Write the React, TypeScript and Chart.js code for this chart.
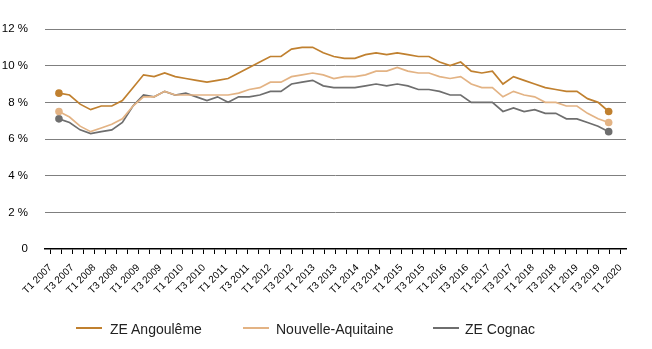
import React, { useEffect, useRef } from "react";
import { Chart, registerables } from "chart.js";

Chart.register(...registerables);

const quarters = [
  "T1 2007", "T2 2007", "T3 2007", "T4 2007",
  "T1 2008", "T2 2008", "T3 2008", "T4 2008",
  "T1 2009", "T2 2009", "T3 2009", "T4 2009",
  "T1 2010", "T2 2010", "T3 2010", "T4 2010",
  "T1 2011", "T2 2011", "T3 2011", "T4 2011",
  "T1 2012", "T2 2012", "T3 2012", "T4 2012",
  "T1 2013", "T2 2013", "T3 2013", "T4 2013",
  "T1 2014", "T2 2014", "T3 2014", "T4 2014",
  "T1 2015", "T2 2015", "T3 2015", "T4 2015",
  "T1 2016", "T2 2016", "T3 2016", "T4 2016",
  "T1 2017", "T2 2017", "T3 2017", "T4 2017",
  "T1 2018", "T2 2018", "T3 2018", "T4 2018",
  "T1 2019", "T2 2019", "T3 2019", "T4 2019",
  "T1 2020",
];

const angouleme = [
  8.5, 8.4, 7.9, 7.6, 7.8, 7.8, 8.1, 8.8, 9.5, 9.4, 9.6, 9.4, 9.3, 9.2, 9.1, 9.2,
  9.3, 9.6, 9.9, 10.2, 10.5, 10.5, 10.9, 11.0, 11.0, 10.7, 10.5, 10.4, 10.4, 10.6,
  10.7, 10.6, 10.7, 10.6, 10.5, 10.5, 10.2, 10.0, 10.2, 9.7, 9.6, 9.7, 9.0, 9.4,
  9.2, 9.0, 8.8, 8.7, 8.6, 8.6, 8.2, 8.0, 7.5,
];

const nouvelleAquitaine = [
  7.5, 7.2, 6.7, 6.4, 6.6, 6.8, 7.1, 7.8, 8.3, 8.3, 8.6, 8.4, 8.4, 8.4, 8.4, 8.4,
  8.4, 8.5, 8.7, 8.8, 9.1, 9.1, 9.4, 9.5, 9.6, 9.5, 9.3, 9.4, 9.4, 9.5,
  9.7, 9.7, 9.9, 9.7, 9.6, 9.6, 9.4, 9.3, 9.4, 9.0, 8.8, 8.8, 8.3, 8.6,
  8.4, 8.3, 8.0, 8.0, 7.8, 7.8, 7.4, 7.1, 6.9,
];

const cognac = [
  7.1, 6.9, 6.5, 6.3, 6.4, 6.5, 6.9, 7.8, 8.4, 8.3, 8.6, 8.4, 8.5, 8.3, 8.1, 8.3,
  8.0, 8.3, 8.3, 8.4, 8.6, 8.6, 9.0, 9.1, 9.2, 8.9, 8.8, 8.8, 8.8, 8.9,
  9.0, 8.9, 9.0, 8.9, 8.7, 8.7, 8.6, 8.4, 8.4, 8.0, 8.0, 8.0, 7.5, 7.7,
  7.5, 7.6, 7.4, 7.4, 7.1, 7.1, 6.9, 6.7, 6.4,
];

const seriesNames = ["ZE Angoulême", "Nouvelle-Aquitaine", "ZE Cognac"];
const seriesColors = ["#C0802F", "#E3B384", "#6E6E6E"];

const FONT = "'Liberation Sans', Arial, Helvetica, sans-serif";

export default function App() {
  const canvasRef = useRef<HTMLCanvasElement>(null);

  useEffect(() => {
    const canvas = canvasRef.current;
    if (!canvas) return;
    const allSeries = [angouleme, nouvelleAquitaine, cognac];
    const datasets = allSeries.map((vals, k) => ({
      label: seriesNames[k],
      data: vals.map((v, i) => ({ x: i, y: v })),
      borderColor: seriesColors[k],
      backgroundColor: seriesColors[k],
      borderWidth: 1.7,
      pointRadius: vals.map((_, i) => (i === 0 || i === vals.length - 1 ? 3.8 : 0)),
      pointBorderWidth: 0,
      pointHoverRadius: 0,
      tension: 0,
      xAxisID: "x",
      yAxisID: "y",
      order: k,
    }));

    const chart = new Chart(canvas, {
      type: "line",
      data: { labels: quarters, datasets },
      options: {
        animation: false,
        responsive: false,
        devicePixelRatio: 1,
        layout: { padding: { left: 0, top: 29, right: 26, bottom: 0 } },
        plugins: { legend: { display: false }, tooltip: { enabled: false } },
        scales: {
          x: {
            type: "linear",
            min: -1.32,
            max: 53.64,
            display: false,
          },
          xq: {
            type: "category",
            labels: quarters,
            position: "bottom",
            offset: true,
            grid: {
              drawOnChartArea: false,
              drawTicks: true,
              tickLength: 5,
              color: "#000",
              offset: false,
            },
            border: { display: true, color: "#000", width: 1.5 },
            ticks: {
              autoSkip: false,
              maxRotation: 45,
              minRotation: 45,
              padding: 8,
              color: "#000",
              font: { family: FONT, size: 10 },
              callback: (_v: any, i: number) => (i % 2 === 0 ? quarters[i] : ""),
            },
            afterFit: (s: any) => {
              s.height = 100;
            },
          },
          y: {
            type: "linear",
            min: 0,
            max: 12,
            border: { display: false },
            grid: {
              drawTicks: false,
              lineWidth: 1,
              color: (c: any) => (c.tick && c.tick.value === 0 ? "rgba(0,0,0,0)" : "#7F7F7F"),
            },
            ticks: {
              stepSize: 2,
              padding: 17,
              color: "#000",
              font: { family: FONT, size: 11.5 },
              callback: (v: any) => (Number(v) === 0 ? "0" : `${v} %`),
            },
            afterFit: (s: any) => {
              s.width = 45;
            },
          },
        },
      },
    });
    return () => chart.destroy();
  }, []);

  const legendPos = [
    { line: 76, text: 110 },
    { line: 243, text: 276 },
    { line: 433, text: 465 },
  ];

  return (
    <div style={{ position: "fixed", left: 0, top: 0, width: 652, height: 349, background: "#fff" }}>
      <canvas ref={canvasRef} width={652} height={349} style={{ width: 652, height: 349, display: "block" }} />
      {seriesNames.map((name, k) => (
        <React.Fragment key={name}>
          <div
            style={{
              position: "absolute",
              left: legendPos[k].line,
              top: 327,
              width: 26,
              height: 2,
              background: seriesColors[k],
            }}
          />
          <div
            style={{
              position: "absolute",
              left: legendPos[k].text,
              top: 320,
              fontFamily: FONT,
              fontSize: 14,
              lineHeight: "18px",
              color: "#222",
              whiteSpace: "nowrap",
            }}
          >
            {name}
          </div>
        </React.Fragment>
      ))}
    </div>
  );
}
